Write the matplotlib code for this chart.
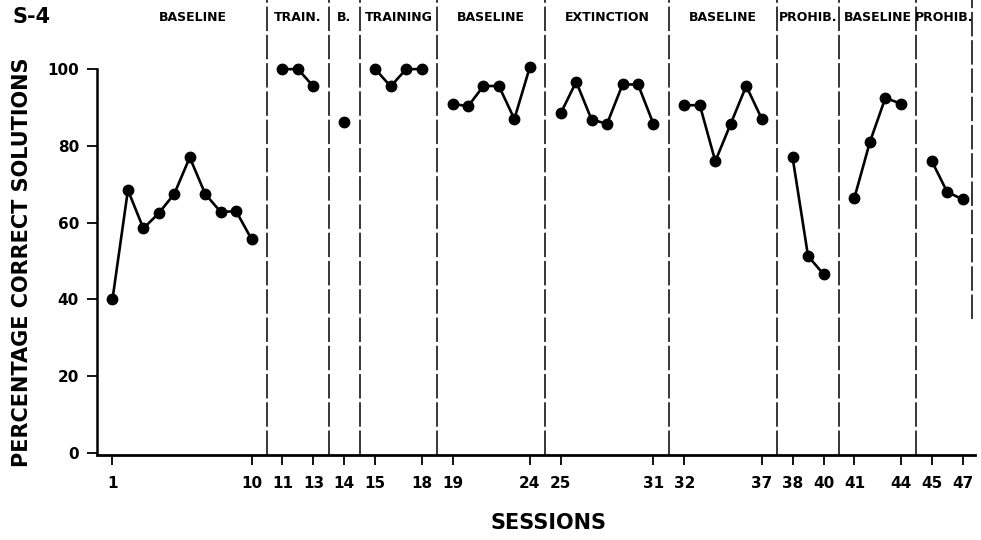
import matplotlib
matplotlib.use('Agg')
import matplotlib.pyplot as plt

# ---- data ----
phase_names = ["BASELINE", "TRAIN.", "B.", "TRAINING", "BASELINE",
               "EXTINCTION", "BASELINE", "PROHIB.", "BASELINE", "PROHIB."]
phase_first = [1, 11, 14, 15, 19, 25, 32, 38, 41, 45]
phase_values = [
    [40, 68.5, 58.5, 62.5, 67.5, 77, 67.5, 62.8, 63, 55.7],
    [100, 100, 95.5],
    [86.3],
    [100, 95.5, 100, 100],
    [91, 90.3, 95.6, 95.6, 87, 100.5],
    [88.5, 96.7, 86.8, 85.8, 96, 96, 85.7],
    [90.6, 90.6, 76, 85.8, 95.6, 87.1],
    [77, 51.3, 46.6],
    [66.5, 81, 92.5, 91],
    [76.1, 68, 66.1],
]
tick_sessions = [1, 10, 11, 13, 14, 15, 18, 19, 24, 25, 31, 32, 37, 38, 40, 41, 44, 45, 47]
y_ticks = [0, 20, 40, 60, 80, 100]

# ---- figure ----
fig = plt.figure(figsize=(9.81, 5.40), dpi=100)
ax = fig.add_axes([97 / 981, 1 - 455 / 540, (975 - 97) / 981, 455 / 540])

def phase_of(s):
    k = 0
    for i, f in enumerate(phase_first):
        if s >= f:
            k = i
    return k

def pos(s):
    return s + phase_of(s)

for k, vals in enumerate(phase_values):
    xs = [pos(phase_first[k] + i) for i in range(len(vals))]
    ax.plot(xs, vals, color='black', lw=1.9, marker='o', ms=7.5,
            markerfacecolor='black', markeredgecolor='black', solid_joinstyle='round')

# phase boundaries
right_edge = 56.6
bounds = [1] + [phase_first[k] + k - 1 for k in range(1, len(phase_first))] + [right_edge]
for b in bounds[1:-1]:
    ax.axvline(b, color='black', lw=1.1, ls=(0, (16, 2.5)), ymin=0, ymax=1)
ax.axvline(right_edge, color='black', lw=1.1, ls=(0, (16, 2.5)), ymin=0.3, ymax=1)

for k, name in enumerate(phase_names):
    xm = (bounds[k] + bounds[k + 1]) / 2
    if k == 0:
        xm += 0.2
    ax.text(xm, 113.5, name, ha='center', va='center', fontsize=9,
            fontweight='bold', family='DejaVu Sans')

ax.set_xlim(0, 56.8)
ax.set_ylim(-0.5, 118)

ax.spines['top'].set_visible(False)
ax.spines['right'].set_visible(False)
ax.spines['left'].set_bounds(0, 100)
ax.spines['left'].set_linewidth(1.8)
ax.spines['bottom'].set_linewidth(2.0)

ax.set_yticks(y_ticks)
ax.set_yticklabels([str(v) for v in y_ticks], fontsize=11, fontweight='bold')
ax.set_xticks([pos(s) for s in tick_sessions])
ax.set_xticklabels([str(s) for s in tick_sessions], fontsize=11, fontweight='bold')
ax.tick_params(axis='both', direction='out', length=7, width=1.3, color='black')
ax.tick_params(axis='x', pad=8)
ax.tick_params(axis='y', pad=6)

fig.text(22 / 981, 1 - 262 / 540, "PERCENTAGE CORRECT SOLUTIONS", rotation=90,
         ha='center', va='center', fontsize=15, fontweight='bold')
fig.text(549 / 981, 1 - 523 / 540, "SESSIONS", ha='center', va='center',
         fontsize=15, fontweight='bold')
fig.text(12 / 981, 1 - 17 / 540, "S-4", ha='left', va='center',
         fontsize=15, fontweight='bold')

fig.savefig('out.png', dpi=100)
